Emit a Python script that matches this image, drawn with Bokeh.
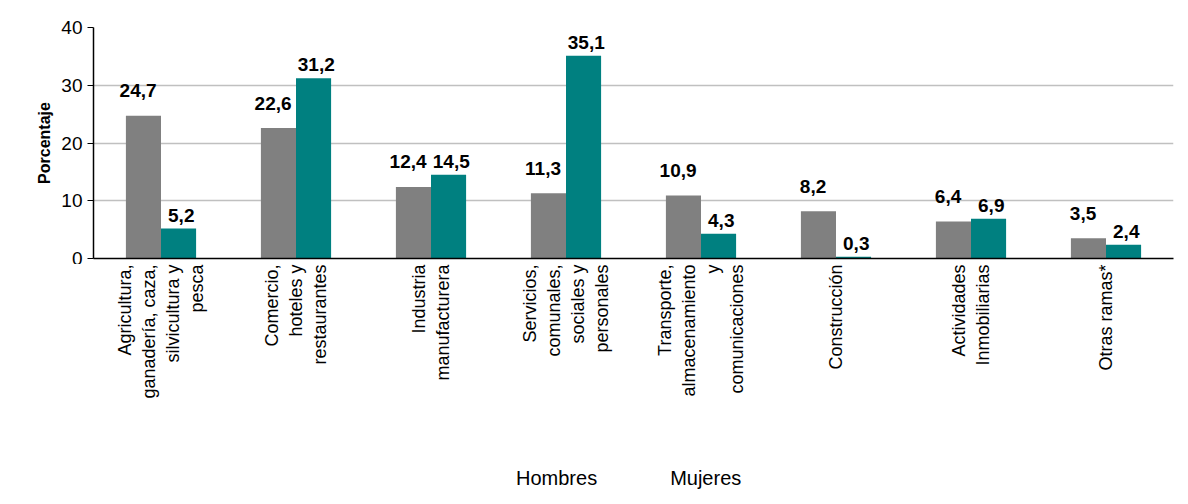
from bokeh.plotting import figure
from bokeh.models import ColumnDataSource, Range1d, Legend, LegendItem
from bokeh.core.properties import value
from bokeh.transform import dodge
from bokeh.layouts import column
from bokeh.embed import file_html
from bokeh.resources import INLINE
import math

# data
categorias = ["Agricultura,\nganadería, caza,\nsilvicultura y\npesca",
              "Comercio,\nhoteles y\nrestaurantes",
              "Industria\nmanufacturera",
              "Servicios,\ncomunales,\nsociales y\npersonales",
              "Transporte,\nalmacenamiento\ny\ncomunicaciones",
              "Construcción",
              "Actividades\nInmobiliarias",
              "Otras ramas*"]
hombres = [24.7, 22.6, 12.4, 11.3, 10.9, 8.2, 6.4, 3.5]
mujeres = [5.2, 31.2, 14.5, 35.1, 4.3, 0.3, 6.9, 2.4]
series = ["Hombres", "Mujeres"]
colores = ["#808080", "#008080"]

fmt = lambda v: ("%.1f" % v).replace(".", ",")
src = ColumnDataSource(dict(
    cat=categorias, h=hombres, m=mujeres,
    ht=[fmt(v) for v in hombres], mt=[fmt(v) for v in mujeres],
    hy=[v + 3.2 for v in hombres], my=[v + 1.2 for v in mujeres],
))

# main chart
p = figure(x_range=categorias, y_range=Range1d(0, 40),
           frame_width=1080, frame_height=231,
           output_backend="svg", toolbar_location=None,
           min_border_left=93, min_border_right=5, min_border_top=27, min_border_bottom=0)
p.outline_line_color = None
p.xgrid.grid_line_color = None
p.ygrid.grid_line_color = "#c0c0c0"
p.ygrid.grid_line_width = 1.5

p.vbar(x=dodge("cat", -0.13, range=p.x_range), top="h", width=0.26, source=src,
       fill_color=colores[0], line_color=None)
p.vbar(x=dodge("cat", 0.13, range=p.x_range), top="m", width=0.26, source=src,
       fill_color=colores[1], line_color=None)

for col, ycol, dx in (("ht", "hy", -0.17), ("mt", "my", 0.15)):
    p.text(x=dodge("cat", dx, range=p.x_range), y=ycol, text=col, source=src,
           text_align="center", text_baseline="bottom", text_font_size="19px",
           text_font_style="bold", text_color="black", text_font=value("Liberation Sans"))

p.yaxis.ticker = [0, 10, 20, 30, 40]
p.yaxis.axis_label = "Porcentaje"
p.yaxis.axis_label_text_font_style = "bold"
p.yaxis.axis_label_text_font_size = "16px"
p.yaxis.axis_label_text_font = "Liberation Sans"
p.yaxis.axis_label_text_color = "black"
p.yaxis.major_label_text_font_size = "19px"
p.yaxis.major_label_text_font = "Liberation Sans"
p.yaxis.major_label_text_color = "black"
p.yaxis.minor_tick_line_color = None
p.yaxis.major_tick_out = 6
p.yaxis.major_tick_in = 0
p.axis.axis_line_color = "black"
p.axis.axis_line_width = 1.5
p.xaxis.major_label_text_font_size = "1px"
p.xaxis.major_label_text_color = None
p.xaxis.major_label_standoff = 0
p.xaxis.major_tick_line_color = None

# category labels and legend underneath
p2 = figure(x_range=p.x_range, y_range=Range1d(0, 1),
            frame_width=1080, frame_height=226,
            output_backend="svg", toolbar_location=None,
            min_border_left=93, min_border_right=5, min_border_top=0, min_border_bottom=0)
p2.axis.visible = False
p2.grid.grid_line_color = None
p2.outline_line_color = None
p2.text(x=categorias, y=[1.0] * len(categorias), text=categorias, angle=math.pi / 2,
        text_align="right", text_baseline="middle", text_font_size="18px",
        text_line_height=1.2, text_color="black", text_font=value("Liberation Sans"))

dummies = [p2.scatter(x=[], y=[], marker="square", size=16, fill_color=c, line_color=None)
           for c in colores]
legend = Legend(items=[LegendItem(label=s, renderers=[r]) for s, r in zip(series, dummies)],
                orientation="horizontal", location=(400, 0),
                label_text_font_size="20px", label_text_font="Liberation Sans",
                label_text_color="black", background_fill_alpha=0,
                glyph_width=18, glyph_height=18, spacing=50, border_line_color=None,
                padding=0, margin=0)
p2.add_layout(legend, "center")

layout = column(p, p2, spacing=0)
open("out.html", "w").write(file_html(layout, INLINE))
